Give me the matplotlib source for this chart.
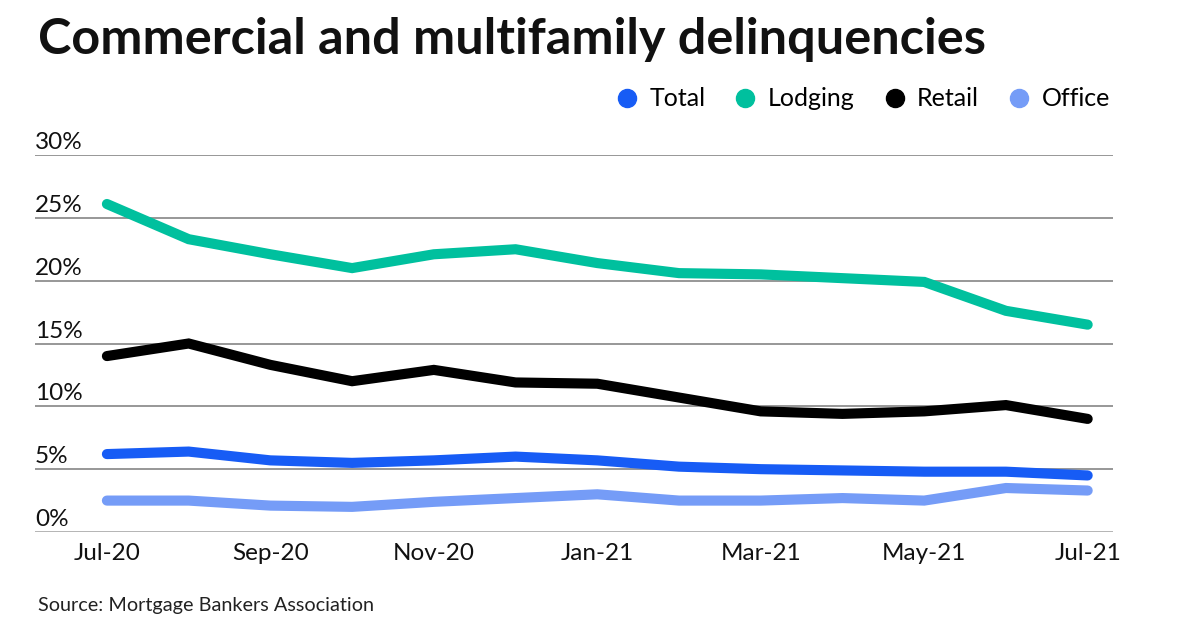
import matplotlib.pyplot as plt
from matplotlib.lines import Line2D
from matplotlib import transforms

plt.rcParams['font.family'] = ['Lato', 'DejaVu Sans']

months = ["Jul-20", "Aug-20", "Sep-20", "Oct-20", "Nov-20", "Dec-20", "Jan-21",
          "Feb-21", "Mar-21", "Apr-21", "May-21", "Jun-21", "Jul-21"]
total = [6.2, 6.4, 5.7, 5.5, 5.7, 6.0, 5.7, 5.2, 5.0, 4.9, 4.8, 4.8, 4.5]
lodging = [26.1, 23.3, 22.1, 21.0, 22.1, 22.5, 21.4, 20.6, 20.5, 20.2, 19.9, 17.6, 16.5]
retail = [14.0, 15.0, 13.3, 12.0, 12.9, 11.9, 11.8, 10.7, 9.6, 9.4, 9.6, 10.1, 9.0]
office = [2.5, 2.5, 2.1, 2.0, 2.4, 2.7, 3.0, 2.5, 2.5, 2.7, 2.5, 3.5, 3.3]
yticks = [0, 5, 10, 15, 20, 25, 30]

series = [("Total", total, "#175cf5"),
          ("Lodging", lodging, "#00c09e"),
          ("Retail", retail, "#000000"),
          ("Office", office, "#759cf7")]

fig = plt.figure(figsize=(12, 6.3), dpi=100)
ax = fig.add_axes([35 / 1200, 1 - 532 / 630, 1078 / 1200, 377 / 630])

x = list(range(len(months)))
for name, vals, col in series:
    ax.plot(x, vals, color=col, lw=7.3, solid_capstyle='round',
            solid_joinstyle='miter', clip_on=False, zorder=3)

ax.set_xlim(-0.88, 12.31)
ax.set_ylim(0, 30)
for s in ax.spines.values():
    s.set_visible(False)
ax.set_yticks([])
for t in yticks:
    ax.axhline(t, color="#7a7a7a" if t else "#a0a0a0", lw=1.1, zorder=1)
    ax.text(0, t + 0.15, f"{t}%", transform=transforms.blended_transform_factory(ax.transAxes, ax.transData),
            ha="left", va="bottom", fontsize=17.5, color="#111111")

ax.set_xticks(x[::2])
ax.set_xticklabels(months[::2], fontsize=17.5, color="#111111")
ax.tick_params(axis='x', length=0, pad=8)

fig.text(38 / 1200, 1 - 40 / 630, "Commercial and multifamily delinquencies",
         fontsize=36.3, fontweight="bold", va="center", ha="left", color="#111111")
fig.text(38 / 1200, 1 - 606 / 630, "Source: Mortgage Bankers Association",
         fontsize=14.3, va="center", ha="left", color="#222222")

handles = [Line2D([], [], marker='o', ls='none', color=c, markersize=13) for _, _, c in series]
fig.legend(handles, [n for n, _, _ in series], loc="center right",
           bbox_to_anchor=(1120 / 1200, 1 - 99 / 630), ncol=4, frameon=False,
           fontsize=18, handlelength=1.2, handletextpad=0.3, columnspacing=1.0, borderaxespad=0)

fig.savefig("out.png", dpi=100)
